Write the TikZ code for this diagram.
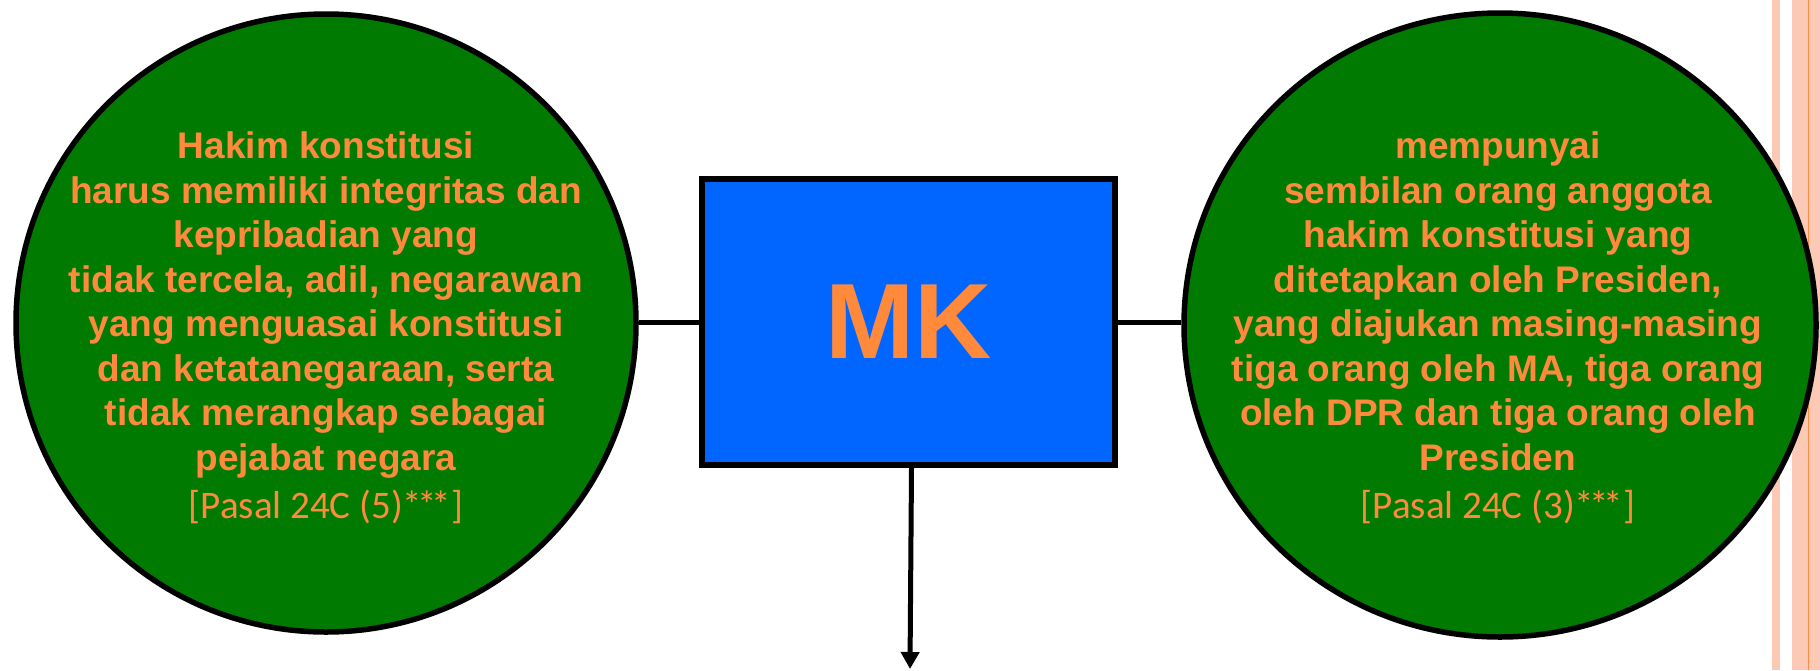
\documentclass[tikz,border=0pt]{standalone}
\usepackage{fontspec}
\setmainfont{Liberation Sans}
\newfontfamily\pasalfont{Carlito}
\usetikzlibrary{shapes.geometric,arrows.meta}
\definecolor{txtorange}{HTML}{FF8A3C}
\definecolor{boxblue}{HTML}{0066FF}
\definecolor{discgreen}{HTML}{007A00}
\definecolor{stripe}{HTML}{FCC9B6}
\definecolor{stripeline}{HTML}{FF8C40}
\newcommand{\pasal}[1]{{\pasalfont\mdseries\fontsize{39}{44.5}\selectfont #1}}
\newcommand{\stars}{*\kern-5pt*\kern-5pt*}
\begin{document}
\begin{tikzpicture}[x=1pt,y=-1pt,
  disc/.style={ellipse, draw=black, line width=5.5pt, fill=discgreen, inner sep=0pt},
  disctext/.style={align=center, text=txtorange, inner sep=0pt,
    font=\fontsize{37}{44.5}\selectfont\bfseries},
  mkbox/.style={rectangle, draw=black, line width=6pt, fill=boxblue,
    minimum width=413pt, minimum height=286pt, inner sep=0pt,
    text=txtorange, font=\fontsize{107}{120}\selectfont\bfseries},
  link/.style={draw=black, line width=5pt},
]
\useasboundingbox (0,0) rectangle (1820,670);

% page edge stripes
\fill[stripe] (1772,0) rectangle (1780,670);
\fill[stripe] (1792,0) rectangle (1820,670);
\draw[stripeline, line width=1.5pt] (1808.5,0) -- (1808.5,670);

% central box
\node[mkbox] (mk) at (908.5,322) {MK};

% left disc and its text
\node[disc, minimum width=620pt, minimum height=618pt] (left) at (326,323) {};
\node[disctext] (lefttext) at (326,328)
  {Hakim konstitusi\\ harus memiliki integritas dan\\ kepribadian yang\\
   tidak tercela, adil, negarawan\\ yang menguasai konstitusi\\
   dan ketatanegaraan, serta\\ tidak merangkap sebagai\\ pejabat negara\\[4pt]
   \pasal{[Pasal 24C (5)\stars]}};

% right disc and its text
\node[disc, minimum width=632pt, minimum height=624pt] (right) at (1500,325) {};
\node[disctext] (righttext) at (1498,328)
  {mempunyai\\ sembilan orang anggota\\ hakim konstitusi yang\\
   ditetapkan oleh Presiden,\\ yang diajukan masing-masing\\
   tiga orang oleh MA, tiga orang\\ oleh DPR dan tiga orang oleh\\ Presiden\\[4pt]
   \pasal{[Pasal 24C (3)\stars]}};

% connectors
\coordinate (down) at (910,669);
\draw[link] (left.east |- mk.west) -- (mk.west);
\draw[link] (mk.east) -- (right.west |- mk.east);
\draw[link, -{Triangle[length=17pt,width=18pt]}] ([xshift=3pt]mk.south) -- (down);
\end{tikzpicture}
\end{document}
